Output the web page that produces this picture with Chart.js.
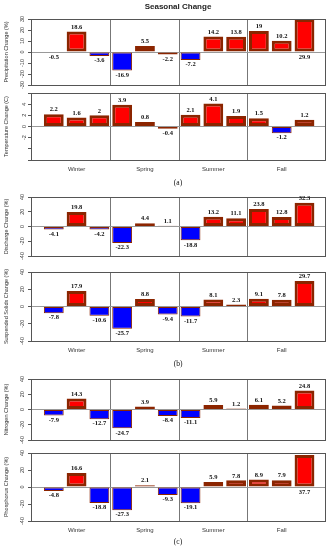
<!DOCTYPE html>
<html>
<head>
<meta charset="utf-8">
<script src="https://cdn.jsdelivr.net/npm/chart.js@4"></script>
<style>
  body { margin: 0; background: #fff; }
  #wrap { position: relative; width: 331px; height: 550px; overflow: hidden; }
  canvas { position: absolute; left: 0; }
</style>
</head>
<body>
<div id="wrap"></div>
<script>
// seasons, 3 bars each
const seasons = ['Winter', 'Spring', 'Summer', 'Fall'];

const precipitation = [-0.5, 18.6, -3.6, -16.9, 5.5, -2.2, -7.2, 14.2, 13.8, 19, 10.2, 29.9];
const temperature = [2.2, 1.6, 2, 3.9, 0.8, -0.4, 2.1, 4.1, 1.9, 1.5, -1.2, 1.2];
const discharge = [-4.1, 19.8, -4.2, -22.3, 4.4, 1.1, -18.8, 13.2, 11.1, 23.8, 12.8, 32.3];
const solids = [-7.8, 17.9, -10.6, -25.7, 8.8, -9.4, -11.7, 8.1, 2.3, 9.1, 7.8, 29.7];
const nitrogen = [-7.9, 14.3, -12.7, -24.7, 3.9, -8.4, -11.1, 5.9, 1.2, 6.1, 5.2, 24.8];
const phosphorus = [-4.8, 16.6, -18.8, -27.3, 2.1, -9.3, -19.1, 5.9, 7.8, 8.9, 7.9, 37.7];

// y tick values and the ones that get a label
const precipTicks = [-30, -20, -10, 0, 10, 20, 30];
const tempTicks = [-6, -4, -2, 0, 2, 4, 6];
const tempLabels = [-2, 0, 2, 4];
const pctTicks = [-40, -20, 0, 20, 40];

// x positions: season label in the middle bar, separator between groups
const xTicks = [];
seasons.forEach((s, i) => {
  xTicks.push(i * 3 + 2);
  if (i < seasons.length - 1) xTicks.push(i * 3 + 3.5);
});

const panels = [
  { values: precipitation, title: 'Precipitation Change (%)', ticks: precipTicks, labels: precipTicks, top: 19, bottom: 85, first: true },
  { values: temperature, title: 'Temperature Change (C)', ticks: tempTicks, labels: tempLabels, top: 93, bottom: 160, caption: '(a)', capOff: 23 },
  { values: discharge, title: 'Discharge Change (%)', ticks: pctTicks, labels: pctTicks, top: 197, bottom: 256 },
  { values: solids, title: 'Suspended Solids Change (%)', ticks: pctTicks, labels: pctTicks, top: 272, bottom: 341, caption: '(b)', capOff: 23 },
  { values: nitrogen, title: 'Nitrogen Change (%)', ticks: pctTicks, labels: pctTicks, top: 379, bottom: 440 },
  { values: phosphorus, title: 'Phosphorus Change (%)', ticks: pctTicks, labels: pctTicks, top: 453, bottom: 521, caption: '(c)', capOff: 21 }
];

const boxPlugin = {
  id: 'box',
  afterDatasetsDraw(chart) {
    const { ctx, chartArea: a } = chart;
    ctx.save();
    ctx.strokeStyle = '#555';
    ctx.lineWidth = 1;
    ctx.strokeRect(Math.round(a.left) + 0.5, Math.round(a.top) + 0.5,
      Math.round(a.right - a.left), Math.round(a.bottom - a.top));
    ctx.restore();
  }
};

const valuePlugin = {
  id: 'values',
  afterDraw(chart) {
    const { ctx } = chart;
    const meta = chart.getDatasetMeta(0);
    const data = chart.data.datasets[0].data;
    const yMax = chart.scales.y.max;
    const zero = chart.scales.y.getPixelForValue(0);
    ctx.save();
    ctx.font = 'bold 6.5px "Liberation Serif"';
    ctx.textAlign = 'center';
    ctx.textBaseline = 'middle';
    ctx.fillStyle = '#111';
    meta.data.forEach((bar, i) => {
      const v = data[i].y;
      let y;
      if (v >= 0) y = v / yMax > 0.9 ? zero + 5 : bar.y - 4.5;
      else y = bar.y + 4.5;
      ctx.fillText(String(v), bar.x, y);
    });
    ctx.restore();
  }
};

const wrap = document.getElementById('wrap');

panels.forEach(p => {
  const canvasTop = p.first ? 0 : p.top - 8;
  const xh = p.caption ? 28 : 8;
  const h = p.bottom + xh - canvasTop;
  const canvas = document.createElement('canvas');
  canvas.width = 331;
  canvas.height = h;
  canvas.style.top = canvasTop + 'px';
  wrap.appendChild(canvas);

  const scales = {
    x: {
      type: 'linear', min: 0, max: 12.9, offset: false,
      afterBuildTicks: s => { s.ticks = xTicks.map(v => ({ value: v })); },
      grid: {
        offset: false, drawTicks: false,
        color: c => Number.isInteger(c.tick.value) ? 'rgba(0,0,0,0)' : '#777'
      },
      border: { display: true, color: '#555' },
      ticks: {
        display: !!p.caption, autoSkip: false, maxRotation: 0, padding: 5.4,
        font: { family: 'Liberation Sans', size: 6 }, color: '#333',
        callback: v => Number.isInteger(v) ? seasons[(v - 2) / 3] : ''
      },
      title: {
        display: !!p.caption, text: p.caption || '',
        font: { family: 'Liberation Serif', size: 7.5 }, color: '#111',
        padding: { top: 0, bottom: p.caption ? xh - 4.5 - p.capOff : 0 }
      },
      afterFit: s => { s.height = xh; }
    },
    y: {
      min: p.ticks[0], max: p.ticks[p.ticks.length - 1],
      afterBuildTicks: s => { s.ticks = p.ticks.map(v => ({ value: v })); },
      grid: {
        color: c => (c.tick && c.tick.value === 0) ? '#999' : 'rgba(0,0,0,0)',
        tickColor: '#555', tickLength: 3
      },
      border: { display: true, color: '#555' },
      ticks: {
        minRotation: 90, maxRotation: 90, crossAlign: 'center', padding: 1.5, autoSkip: false,
        font: { family: 'Liberation Sans', size: 5.5 }, color: '#333',
        callback: v => p.labels.includes(v) ? String(v) : ''
      },
      title: {
        display: true, text: p.title,
        font: { family: 'Liberation Sans', size: 5.5 }, color: '#333',
        padding: { top: 2.7, bottom: 0 }
      },
      afterFit: s => { s.width = 31; }
    }
  };

  if (p.first) {
    scales.xTop = {
      type: 'linear', position: 'top', min: 0, max: 12.9,
      grid: { display: false }, border: { display: false },
      ticks: { display: false },
      title: {
        display: true, text: 'Seasonal Change',
        font: { family: 'Liberation Sans', size: 8, weight: 'bold' }, color: '#222',
        padding: { top: 2, bottom: 0 }
      },
      afterFit: s => { s.height = 19; }
    };
  }

  new Chart(canvas, {
    type: 'bar',
    data: {
      datasets: [{
        data: p.values.map((v, i) => ({ x: i + 1, y: v })),
        backgroundColor: c => c.raw.y >= 0 ? '#ff0000' : '#0000ff',
        borderColor: '#8b2500',
        borderWidth: c => c.raw.y >= 0 ? 3 : 1,
        borderSkipped: false,
        categoryPercentage: 1,
        barPercentage: 0.87
      }]
    },
    options: {
      responsive: false,
      animation: false,
      events: [],
      layout: { padding: { top: p.first ? 0 : 8, right: 6, left: 0, bottom: 0 } },
      plugins: { legend: { display: false }, tooltip: { enabled: false } },
      scales: scales
    },
    plugins: [boxPlugin, valuePlugin]
  });
});
</script>
</body>
</html>
